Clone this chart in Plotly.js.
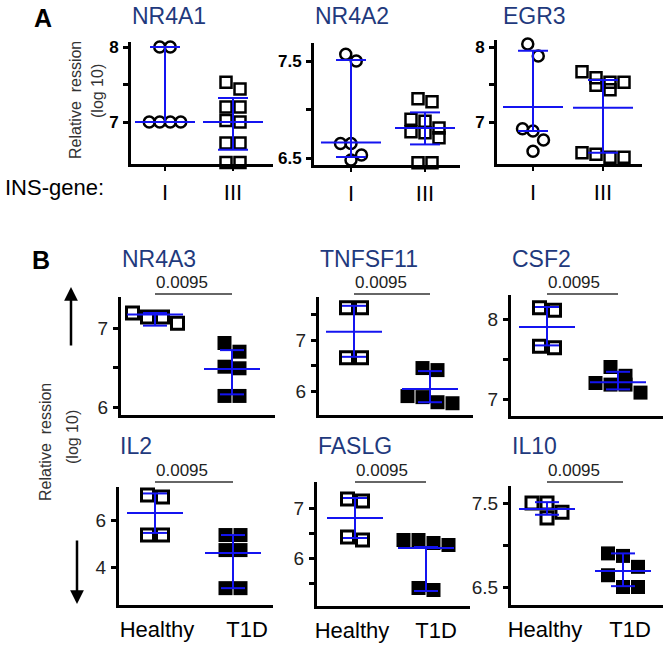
<!DOCTYPE html>
<html><head><meta charset="utf-8">
<script src="https://cdn.plot.ly/plotly-3.0.1.min.js"></script>
<style>html,body{margin:0;padding:0;background:#fff}</style>
</head><body>
<div id="chart" style="width:672px;height:648px"></div>
<script>
// ---------------- DATA ----------------
const groupsA = ['I', 'III'];
const groupsB = ['Healthy', 'T1D'];

const nr4a1_I = [8.0, 8.0, 7.0, 7.0, 7.0, 7.0];
const nr4a1_III = [7.53, 7.44, 7.2, 7.2, 7.02, 7.0, 6.72, 6.72, 6.46, 6.46];
const nr4a1_median = [7.0, 7.0];
const nr4a1_q1 = [7.0, 6.63];
const nr4a1_q3 = [8.0, 7.32];
const nr4a1_ticks = [7, 7.5, 8];
const nr4a1_tickText = ['7', '', '8'];

const nr4a2_I = [7.57, 7.5, 6.65, 6.65, 6.53, 6.48];
const nr4a2_III = [7.11, 7.08, 6.9, 6.88, 6.81, 6.77, 6.76, 6.71, 6.45, 6.45];
const nr4a2_median = [6.66, 6.81];
const nr4a2_q1 = [6.51, 6.64];
const nr4a2_q3 = [7.51, 6.97];
const nr4a2_ticks = [6.5, 7, 7.5];
const nr4a2_tickText = ['6.5', '', '7.5'];

const egr3_I = [8.04, 7.88, 6.91, 6.88, 6.76, 6.61];
const egr3_III = [7.67, 7.59, 7.53, 7.53, 7.49, 7.43, 6.59, 6.57, 6.53, 6.53];
const egr3_median = [7.2, 7.19];
const egr3_q1 = [6.88, 6.59];
const egr3_q3 = [7.95, 7.56];
const egr3_ticks = [7, 7.5, 8];
const egr3_tickText = ['7', '', '8'];

const nr4a3_H = [7.19, 7.14, 7.14, 7.06];
const nr4a3_T = [6.81, 6.70, 6.51, 6.49, 6.14, 6.14];
const nr4a3_median = [7.17, 6.48];
const nr4a3_q1 = [7.03, 6.16];
const nr4a3_q3 = [7.19, 6.72];
const nr4a3_ticks = [6, 6.5, 7];
const nr4a3_tickText = ['6', '', '7'];

const tnfsf11_H = [7.63, 7.63, 6.65, 6.65];
const tnfsf11_T = [6.45, 6.41, 5.9, 5.88, 5.78, 5.76];
const tnfsf11_median = [7.16, 6.04];
const tnfsf11_q1 = [6.67, 5.78];
const tnfsf11_q3 = [7.67, 6.39];
const tnfsf11_ticks = [6, 6.5, 7, 7.5];
const tnfsf11_tickText = ['6', '', '7', ''];

const csf2_H = [8.14, 8.11, 7.66, 7.64];
const csf2_T = [7.4, 7.29, 7.2, 7.18, 7.18, 7.08];
const csf2_median = [7.9, 7.21];
const csf2_q1 = [7.67, 7.12];
const csf2_q3 = [8.15, 7.34];
const csf2_ticks = [7, 7.5, 8];
const csf2_tickText = ['7', '', '8'];

const il2_H = [7.06, 6.98, 5.36, 5.36];
const il2_T = [5.36, 5.36, 4.72, 4.72, 3.1, 3.1];
const il2_median = [6.3, 4.6];
const il2_q1 = [5.45, 3.1];
const il2_q3 = [7.13, 5.36];
const il2_ticks = [4, 6];
const il2_tickText = ['4', '6'];

const faslg_H = [7.18, 7.14, 6.42, 6.36];
const faslg_T = [6.36, 6.36, 6.3, 6.26, 5.4, 5.36];
const faslg_median = [6.8, 6.2];
const faslg_q1 = [6.4, 5.34];
const faslg_q3 = [7.2, 6.22];
const faslg_ticks = [5.5, 6, 6.5, 7];
const faslg_tickText = ['', '6', '', '7'];

const il10_H = [7.5, 7.5, 7.39, 7.32];
const il10_T = [6.9, 6.87, 6.74, 6.64, 6.5, 6.5];
const il10_median = [7.43, 6.69];
const il10_q1 = [7.36, 6.51];
const il10_q3 = [7.51, 6.9];
const il10_ticks = [6.5, 7, 7.5];
const il10_tickText = ['6.5', '', '7.5'];

const pValues = ['0.0095', '0.0095', '0.0095', '0.0095', '0.0095', '0.0095'];

const panels = [
  {name: 'NR4A1', part: 'A', groups: groupsA, g0: nr4a1_I, g1: nr4a1_III, med: nr4a1_median, q1: nr4a1_q1, q3: nr4a1_q3, ticks: nr4a1_ticks, tickText: nr4a1_tickText},
  {name: 'NR4A2', part: 'A', groups: groupsA, g0: nr4a2_I, g1: nr4a2_III, med: nr4a2_median, q1: nr4a2_q1, q3: nr4a2_q3, ticks: nr4a2_ticks, tickText: nr4a2_tickText},
  {name: 'EGR3', part: 'A', groups: groupsA, g0: egr3_I, g1: egr3_III, med: egr3_median, q1: egr3_q1, q3: egr3_q3, ticks: egr3_ticks, tickText: egr3_tickText},
  {name: 'NR4A3', part: 'B', groups: groupsB, g0: nr4a3_H, g1: nr4a3_T, med: nr4a3_median, q1: nr4a3_q1, q3: nr4a3_q3, ticks: nr4a3_ticks, tickText: nr4a3_tickText, p: pValues[0]},
  {name: 'TNFSF11', part: 'B', groups: groupsB, g0: tnfsf11_H, g1: tnfsf11_T, med: tnfsf11_median, q1: tnfsf11_q1, q3: tnfsf11_q3, ticks: tnfsf11_ticks, tickText: tnfsf11_tickText, p: pValues[1]},
  {name: 'CSF2', part: 'B', groups: groupsB, g0: csf2_H, g1: csf2_T, med: csf2_median, q1: csf2_q1, q3: csf2_q3, ticks: csf2_ticks, tickText: csf2_tickText, p: pValues[2]},
  {name: 'IL2', part: 'B', groups: groupsB, g0: il2_H, g1: il2_T, med: il2_median, q1: il2_q1, q3: il2_q3, ticks: il2_ticks, tickText: il2_tickText, p: pValues[3]},
  {name: 'FASLG', part: 'B', groups: groupsB, g0: faslg_H, g1: faslg_T, med: faslg_median, q1: faslg_q1, q3: faslg_q3, ticks: faslg_ticks, tickText: faslg_tickText, p: pValues[4]},
  {name: 'IL10', part: 'B', groups: groupsB, g0: il10_H, g1: il10_T, med: il10_median, q1: il10_q1, q3: il10_q3, ticks: il10_ticks, tickText: il10_tickText, p: pValues[5]}
];

// ---------------- GEOMETRY (pixels) ----------------
const W = 672, H = 648;
const GEOM = {
  NR4A1:   {L: 131, R: 273, T: 42,  B: 164, c0: 165, c1: 233, yv: [7, 8],     yp: [122, 47], ty: 16,  cats: true},
  NR4A2:   {L: 314, R: 460, T: 43,  B: 165, c0: 351, c1: 425, yv: [6.5, 7.5], yp: [158, 61], ty: 16,  cats: true},
  EGR3:    {L: 497, R: 642, T: 40,  B: 164, c0: 533, c1: 603, yv: [7, 8],     yp: [122, 47], ty: 16,  cats: true, tx: 502},
  NR4A3:   {L: 121, R: 275, T: 297, B: 415, c0: 155, c1: 232, yv: [6, 7],     yp: [407, 328], ty: 259, by: 294, cats: false},
  TNFSF11: {L: 319, R: 473, T: 297, B: 415, c0: 354, c1: 430, yv: [6, 7],     yp: [391, 340], ty: 259, by: 294, cats: false},
  CSF2:    {L: 511, R: 663, T: 295, B: 416, c0: 547, c1: 618, yv: [7, 8],     yp: [399, 319], ty: 259, by: 294, cats: false},
  IL2:     {L: 119, R: 273, T: 487, B: 605, c0: 155, c1: 233, yv: [4, 6],     yp: [567, 520], ty: 446, by: 482, cats: true, lab: [157, 247]},
  FASLG:   {L: 317, R: 470, T: 482, B: 606, c0: 355, c1: 426, yv: [6, 7],     yp: [558, 508], ty: 446, by: 482, cats: true, lab: [352, 436]},
  IL10:    {L: 511, R: 663, T: 486, B: 605, c0: 547, c1: 623, yv: [6.5, 7.5], yp: [587, 503], ty: 446, by: 482, cats: true, lab: [545, 630]}
};

// ---------------- STYLE ----------------
const FONT = 'Arial, "Liberation Sans", Helvetica, sans-serif';
const BLUE = '#1414f0';
const NAVY = '#1f3a7d';
const STYLE = {
  A: {
    m0: {symbol: 'circle-open', size: 11, color: '#000', line: {width: 2.5, color: '#000'}},
    m1: {symbol: 'square-open', size: 11, color: '#000', line: {width: 2.5, color: '#000'}},
    sp0: 10.5, sp1: 14, thr: 12.5, hwM: 30, hwI: 15,
    tickfont: {family: FONT, size: 17, color: '#000', weight: 'bold'},
    xticks: 'outside'
  },
  B: {
    m0: {symbol: 'square-open', size: 12, color: '#000', line: {width: 3, color: '#000'}},
    m1: {symbol: 'square', size: 14, color: '#000', line: {width: 0}},
    sp0: 15, sp1: 15, thr: 14, hwM: 28, hwI: 12,
    tickfont: {family: FONT, size: 19, color: '#222'},
    xticks: ''
  }
};

// row-based dot spreading (values close in y share a row, centred on the category)
function spread(vals, pxPerUnit, thrPx, spacingPx, catPx) {
  const idx = vals.map((v, i) => i).sort((a, b) => vals[b] - vals[a]);
  const off = new Array(vals.length).fill(0);
  let grp = [];
  const flush = () => {
    const n = grp.length;
    grp.forEach((id, j) => { off[id] = (j - (n - 1) / 2) * spacingPx / catPx; });
    grp = [];
  };
  idx.forEach(id => {
    if (grp.length && (vals[grp[0]] - vals[id]) * pxPerUnit >= thrPx) flush();
    grp.push(id);
  });
  flush();
  return off;
}

const traces = [];
const layout = {
  width: W, height: H, margin: {l: 0, r: 0, t: 0, b: 0},
  paper_bgcolor: '#fff', plot_bgcolor: 'rgba(0,0,0,0)',
  showlegend: false, font: {family: FONT},
  annotations: [], shapes: []
};

panels.forEach((p, i) => {
  const n = i + 1;
  const xr = n === 1 ? 'x' : 'x' + n, yr = n === 1 ? 'y' : 'y' + n;
  const xk = n === 1 ? 'xaxis' : 'xaxis' + n, yk = n === 1 ? 'yaxis' : 'yaxis' + n;
  const g = GEOM[p.name], st = STYLE[p.part];
  const s = g.c1 - g.c0;
  const k = (g.yp[0] - g.yp[1]) / (g.yv[1] - g.yv[0]);
  const yBottom = g.yv[0] - (g.B - g.yp[0]) / k;
  const yTop = g.yv[0] + (g.yp[0] - g.T) / k;
  const labVals = g.lab ? g.lab.map(v => (v - g.c0) / s) : [0, 1];

  layout[xk] = {
    domain: [g.L / W, g.R / W], range: [(g.L - g.c0) / s, (g.R - g.c0) / s], anchor: yr,
    showline: true, linewidth: 3, linecolor: '#000', showgrid: false, zeroline: false,
    tickmode: 'array', tickvals: labVals, ticktext: g.cats ? p.groups : ['', ''],
    showticklabels: g.cats, ticks: st.xticks, ticklen: 4, tickwidth: 2, tickcolor: '#000',
    tickfont: {family: FONT, size: 22, color: '#000'}, ticklabelstandoff: 3, fixedrange: true
  };
  layout[yk] = {
    domain: [1 - g.B / H, 1 - g.T / H], range: [yBottom, yTop], anchor: xr,
    showline: true, linewidth: 3, linecolor: '#000', showgrid: false, zeroline: false,
    tickmode: 'array', tickvals: p.ticks, ticktext: p.tickText,
    ticks: 'outside', ticklen: 5, tickwidth: 3, tickcolor: '#000',
    tickfont: st.tickfont, ticklabelstandoff: 1, fixedrange: true
  };

  // dots
  [[p.g0, st.m0, st.sp0, 0], [p.g1, st.m1, st.sp1, 1]].forEach(([vals, m, sp, c]) => {
    const off = spread(vals, k, st.thr, sp, s);
    traces.push({
      type: 'scatter', mode: 'markers', xaxis: xr, yaxis: yr,
      x: vals.map((v, j) => c + off[j]), y: vals, marker: m, cliponaxis: false, hoverinfo: 'skip'
    });
  });

  // median & interquartile lines
  const lx = [], ly = [];
  [0, 1].forEach(c => {
    const hm = st.hwM / s, hi = st.hwI / s;
    lx.push(c - hm, c + hm, null, c - hi, c + hi, null, c - hi, c + hi, null, c, c, null);
    ly.push(p.med[c], p.med[c], null, p.q3[c], p.q3[c], null, p.q1[c], p.q1[c], null, p.q1[c], p.q3[c], null);
  });
  traces.push({type: 'scatter', mode: 'lines', xaxis: xr, yaxis: yr, x: lx, y: ly,
    line: {color: BLUE, width: 2}, cliponaxis: false, hoverinfo: 'skip', connectgaps: false});

  // panel title
  layout.annotations.push({
    xref: 'paper', yref: 'paper', x: (g.tx || g.L) / W, y: 1 - g.ty / H, xanchor: 'left', yanchor: 'middle',
    text: p.name, showarrow: false, font: {family: FONT, size: 23, color: NAVY}, borderpad: 0
  });

  // significance bracket
  if (p.p) {
    layout.shapes.push({type: 'line', xref: xr, yref: 'paper', x0: 0, x1: 1,
      y0: 1 - g.by / H, y1: 1 - g.by / H, line: {color: '#333', width: 1.5}});
    layout.annotations.push({
      xref: xr, yref: 'paper', x: 0, y: 1 - (g.by - 1) / H, xanchor: 'left', yanchor: 'bottom',
      text: p.p, showarrow: false, font: {family: FONT, size: 17, color: '#222'}, borderpad: 0
    });
  }
});

// panel letters, row label, axis labels, arrows
const ann = layout.annotations;
const txt = (t, xp, yp, size, opts = {}) => ann.push(Object.assign({
  xref: 'paper', yref: 'paper', x: xp / W, y: 1 - yp / H, text: t, showarrow: false,
  xanchor: 'center', yanchor: 'middle', font: {family: FONT, size: size, color: '#000'}
}, opts));
txt('<b>A</b>', 43, 18, 25);
txt('<b>B</b>', 41, 260, 25);
txt('INS-gene:', 3, 188, 22, {xanchor: 'left'});
txt('Relative  ression', 75, 100, 16, {textangle: -90, font: {family: FONT, size: 16, color: '#333'}});
txt('(log 10)', 97, 91, 16, {textangle: -90, font: {family: FONT, size: 16, color: '#333'}});
txt('Relative  ression', 45, 442, 16, {textangle: -90, font: {family: FONT, size: 16, color: '#333'}});
txt('(log 10)', 72, 437, 16, {textangle: -90, font: {family: FONT, size: 16, color: '#333'}});
ann.push({xref: 'paper', yref: 'paper', x: 71 / W, y: 1 - 287 / H, ax: 0, ay: 60, axref: 'pixel', ayref: 'pixel',
  text: '', showarrow: true, arrowhead: 2, arrowsize: 1.1, arrowwidth: 2.5, arrowcolor: '#000'});
ann.push({xref: 'paper', yref: 'paper', x: 77 / W, y: 1 - 604 / H, ax: 0, ay: -65, axref: 'pixel', ayref: 'pixel',
  text: '', showarrow: true, arrowhead: 2, arrowsize: 1.1, arrowwidth: 2.5, arrowcolor: '#000'});

Plotly.newPlot('chart', traces, layout, {staticPlot: true, displayModeBar: false});
</script>
</body></html>
